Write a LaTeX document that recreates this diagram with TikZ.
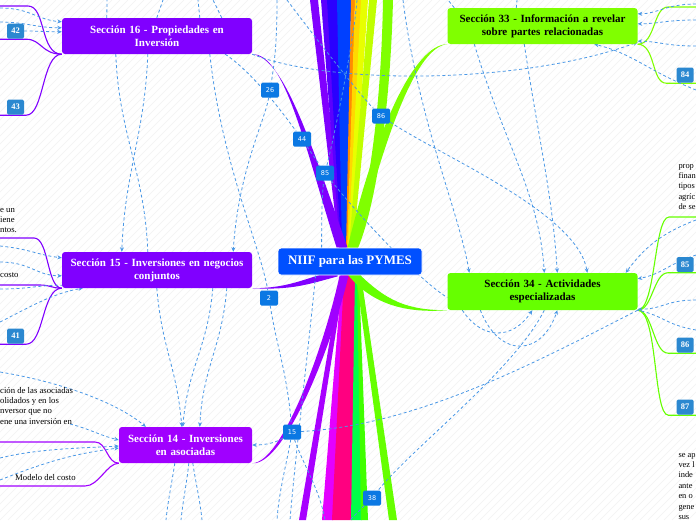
\documentclass[tikz,border=0pt]{standalone}
\usepackage{fontspec}
\setmainfont{Liberation Serif}
\newfontfamily\badgefont{DejaVu Sans}
\usetikzlibrary{arrows.meta,calc}

\definecolor{niifblue}{HTML}{0050FF}
\definecolor{secpurple}{HTML}{8000FF}
\definecolor{secviolet}{HTML}{A000FF}
\definecolor{secgreen}{HTML}{80FF00}
\definecolor{seclime}{HTML}{66FF00}
\definecolor{linkblue}{HTML}{4A98E6}
\definecolor{tagblue}{HTML}{2B88D0}
\definecolor{numblue}{HTML}{0B78E3}
\definecolor{fanviolet}{HTML}{8000FF}
\definecolor{fanindigo}{HTML}{5A00FF}
\definecolor{fandeep}{HTML}{2A00FF}
\definecolor{fanblue}{HTML}{0040FF}
\definecolor{fanorange}{HTML}{FF8C00}
\definecolor{fanyellow}{HTML}{FFD800}
\definecolor{fanlemon}{HTML}{E8FF00}
\definecolor{fanchart}{HTML}{C0FF00}
\definecolor{fanpurple}{HTML}{A800FF}
\definecolor{fanmagenta}{HTML}{E400FF}
\definecolor{fanpink}{HTML}{FF0080}
\definecolor{fanjade}{HTML}{00FF48}
\definecolor{fanlime}{HTML}{40FF00}

\pgfdeclarelayer{bg}
\pgfdeclarelayer{fan}
\pgfdeclarelayer{wire}
\pgfsetlayers{bg,fan,wire,main}

\tikzstyle{rootbox} = [rectangle, rounded corners=3pt, fill=niifblue, draw=white,
    line width=0.8pt, text=white, minimum width=144pt, minimum height=27pt,
    font=\fontsize{13}{15}\selectfont\bfseries]
\tikzstyle{secbox} = [rectangle, rounded corners=3pt, minimum width=190pt,
    minimum height=36pt, text width=182pt, align=center, inner sep=2pt,
    font=\fontsize{11}{13}\selectfont\bfseries]
\tikzstyle{purplebox} = [secbox, fill=secpurple, text=white]
\tikzstyle{greenbox} = [secbox, fill=secgreen, text=black]
\tikzstyle{tagbox} = [rectangle, rounded corners=1.5pt, fill=tagblue, text=white,
    minimum width=17pt, minimum height=15pt, inner sep=0pt,
    font=\fontsize{8.5}{8.5}\selectfont\bfseries]
\tikzstyle{numbox} = [rectangle, rounded corners=1.5pt, fill=numblue, text=white,
    minimum width=18pt, minimum height=15pt, inner sep=0pt,
    font=\badgefont\fontsize{6.5}{6.5}\selectfont]
\tikzstyle{leaf} = [inner sep=0pt, align=left, font=\fontsize{8.7}{10.4}\selectfont]
\tikzstyle{edgeleaf} = [leaf, font=\fontsize{8.4}{10.4}\selectfont]
\tikzstyle{link} = [draw=linkblue, line width=0.8pt, dash pattern=on 3pt off 2.5pt]
\tikzstyle{linkto} = [link, -{Stealth[length=4.5pt,width=4pt]}]
\tikzstyle{twig} = [line width=1.1pt]

\begin{document}
\begin{tikzpicture}[x=1pt, y=-1pt]
\useasboundingbox (0,0) rectangle (696,520);

\node[rootbox] (root) at (350,261.5) {NIIF para las PYMES};
\node[purplebox] (sec16) at (157,36) {Sección 16 - Propiedades en\\Inversión};
\node[purplebox] (sec15) at (157,270) {Sección 15 - Inversiones en negocios\\conjuntos};
\node[purplebox, fill=secviolet, minimum width=133pt, text width=125pt] (sec14) at (185.5,445) {Sección 14 - Inversiones\\en asociadas};
\node[greenbox] (sec33) at (542.5,26) {Sección 33 - Información a revelar\\sobre partes relacionadas};
\node[greenbox, fill=seclime, minimum height=37pt] (sec34) at (542.5,291.5) {Sección 34 - Actividades\\especializadas};

\node[tagbox] (t42) at (15.5,31) {42};
\node[tagbox] (t43) at (15.5,107) {43};
\node[tagbox] (t41) at (15.5,336) {41};
\node[tagbox] (t84) at (685,75) {84};
\node[tagbox] (t85r) at (685,264.5) {85};
\node[tagbox] (t86r) at (685,345) {86};
\node[tagbox] (t87) at (685,407) {87};

\node[numbox] (n26) at (270,90) {26};
\node[numbox] (n44) at (302,139) {44};
\node[numbox] (n85) at (325,173) {85};
\node[numbox] (n86) at (381,116) {86};
\node[numbox] (n2) at (269,298) {2};
\node[numbox] (n15) at (292,432) {15};
\node[numbox] (n38) at (372,498) {38};

\node[leaf, anchor=north west] (txt15) at (0,204.7) {\strut e un\\iene\\ntos.};
\node[leaf, anchor=north west] (txtcosto) at (0,269.7) {\strut costo};
\node[leaf, anchor=north west] (txt14) at (0,385.7) {\strut ción de las asociadas\\olidados y en los\\nversor que no\\ene una inversión en};
\node[leaf, anchor=north west] (txtmodelo) at (15,472.7) {\strut Modelo del costo};
\node[edgeleaf, anchor=north west] (txt34a) at (678.3,160.7) {\strut prop\\finan\\tipos\\agríc\\de se};
\node[edgeleaf, anchor=north west] (txt34b) at (678.3,449.7) {\strut se ap\\vez l\\inde\\ante\\en o\\gene\\sus};

\coordinate (left1) at (0,8);
\coordinate (left2) at (0,22);
\coordinate (left3) at (0,246);
\coordinate (left4) at (0,262);
\coordinate (left5) at (0,289);
\coordinate (left6) at (0,322);
\coordinate (left7) at (0,372);
\coordinate (left9) at (0,458);
\coordinate (left10) at (0,480);
\coordinate (inv14) at (70,424);
\coordinate (top1) at (107,0);
\coordinate (top2) at (163,0);
\coordinate (top3) at (198,0);
\coordinate (top4) at (213,0);
\coordinate (top5) at (277,0);
\coordinate (top6) at (287,0);
\coordinate (top7) at (357,0);
\coordinate (top8) at (403,0);
\coordinate (top9) at (448,0);
\coordinate (top10) at (517,0);
\coordinate (right1) at (696,4);
\coordinate (right2) at (696,20);
\coordinate (right3) at (696,46);
\coordinate (right4) at (696,90);
\coordinate (right5) at (696,220);
\coordinate (right6) at (696,255);
\coordinate (right7) at (696,300);
\coordinate (right8) at (696,330);
\coordinate (bot1) at (166,520);
\coordinate (bot2) at (181,520);
\coordinate (bot3) at (202,520);
\coordinate (bot4) at (277,520);
\coordinate (bot5) at (290,520);
\coordinate (bot6) at (325,520);
\coordinate (bot7) at (350,520);
\coordinate (leaf16) at (0,6);
\coordinate (leaf15) at (0,238);
\coordinate (leafcosto) at (0,285);
\coordinate (leaf14) at (0,442);
\coordinate (leafmodelo) at (0,486);
\coordinate (leaf33) at (696,7);
\coordinate (leaf34) at (696,217);

\begin{pgfonlayer}{bg}
\fill[white] (0,0) rectangle (696,520);
\clip (0,0) rectangle (696,520);
\foreach \s in {0,8,...,1216}
  \draw[black!5, line width=0.6pt] (\s-520,520) -- (\s,0);
\end{pgfonlayer}

\begin{pgfonlayer}{fan}
\foreach \tl/\tr/\bl/\br/\col in {310/318/339/344/fanviolet, 321/328/340/345/fanindigo,
    327/338/341/346/fandeep, 337/351/342/348/fanblue, 351/355/346/349/fanorange,
    355/362/347/350/fanyellow, 361/368/348/351/fanlemon, 369/377/349/353/fanchart}
  \fill[\col] (\tl,0) -- (\tr,0) -- (\br,248) -- (\bl,248) -- cycle;
\fill[secgreen] (383,0) .. controls (381,120) and (366,210) .. (350,248)
    -- (358,248) .. controls (374,210) and (390,120) .. (393,0) -- cycle;
\foreach \tl/\tr/\bl/\br/\col in {341/345/299/306/fanpurple, 342/347/322/333/fanmagenta,
    344/356/332/352/fanpink, 355/358/351/362/fanjade, 357/359/361/368/fanlime,
    356/361/389/397/seclime}
  \fill[\col] (\tl,275) -- (\tr,275) -- (\br,520) -- (\bl,520) -- cycle;

\fill[secpurple] (sec16.south east) .. controls +(33,-1) and +(-31,-98) .. ($(root.north west)+(59,0)$)
    -- ($(root.north west)+(70,0)$) .. controls +(-35,-98) and +(33,3) .. (sec16.south east) -- cycle;
\fill[secpurple] (sec15.south east) .. controls +(40,0) and +(-30,6) .. ($(root.south west)+(60,-5)$)
    -- ($(root.south west)+(60,1)$) .. controls +(-30,8) and +(40,2) .. (sec15.south east) -- cycle;
\fill[secviolet] (sec14.south east) .. controls +(30,0) and +(-15,70) .. ($(root.south west)+(62,0)$)
    -- ($(root.south west)+(71,0)$) .. controls +(-17,72) and +(32,3) .. (sec14.south east) -- cycle;
\fill[secgreen] (sec33.south west) .. controls +(-33,0) and +(28,-118) .. ($(root.north west)+(70,0)$)
    -- ($(root.north west)+(79,0)$) .. controls +(30,-118) and +(-30,2.5) .. (sec33.south west) -- cycle;
\fill[seclime] ($(root.south east)+(-66,-4)$) .. controls +(30,30) and +(-40,0) .. (sec34.south west)
    .. controls +(-40,3) and +(25,30) .. ($(root.south east)+(-74,0)$) -- cycle;

\draw[twig, secpurple] (sec16.south west) .. controls +(-22,0) and +(18,0) .. ($(leaf16)+(28,0)$) -- (leaf16);
\draw[twig, secpurple] (sec16.south west) .. controls +(-20,0) and +(15,0) .. ($(t42.south east)+(2,0.5)$) -- ($(t42.south west)+(-8,0.5)$);
\draw[twig, secpurple] (sec16.south west) .. controls +(-20,0) and +(18,0) .. ($(t43.south east)+(2,0.5)$) -- ($(t43.south west)+(-8,0.5)$);
\draw[twig, secpurple] (sec15.south west) .. controls +(-15,0) and +(15,0) .. ($(leaf15)+(34,0)$) -- (leaf15);
\draw[twig, secpurple] (sec15.south west) .. controls +(-10,0) and +(10,0) .. ($(leafcosto)+(40,0)$) -- (leafcosto);
\draw[twig, secpurple] (sec15.south west) .. controls +(-20,0) and +(18,0) .. ($(t41.south east)+(2,0.5)$) -- ($(t41.south west)+(-8,0.5)$);
\draw[twig, secviolet] (sec14.south west) .. controls +(-12,0) and +(12,0) .. ($(leaf14)+(95,0)$) -- (leaf14);
\draw[twig, secviolet] (sec14.south west) .. controls +(-12,0) and +(14,0) .. ($(leafmodelo)+(85,0)$) -- (leafmodelo);
\draw[twig, secgreen] (sec33.south east) .. controls +(18,0) and +(-15,0) .. ($(leaf33)+(-28,0)$) -- (leaf33);
\draw[twig, secgreen] (sec33.south east) .. controls +(18,0) and +(-15,0) .. ($(t84.south west)+(-10,0.5)$) -- ($(t84.south east)+(3,0.5)$);
\draw[twig, seclime] (sec34.south east) .. controls +(15,0) and +(-15,0) .. ($(t85r.south west)+(-8,0.5)$) -- ($(t85r.south east)+(3,0.5)$);
\draw[twig, seclime] (sec34.south east) .. controls +(18,0) and +(-15,0) .. ($(leaf34)+(-27,0)$) -- (leaf34);
\draw[twig, seclime] (sec34.south east) .. controls +(15,0) and +(-15,0) .. ($(t86r.south west)+(-8,0.5)$) -- ($(t86r.south east)+(3,0.5)$);
\draw[twig, seclime] (sec34.south east) .. controls +(20,0) and +(-15,0) .. ($(t87.south west)+(-8,0.5)$) -- ($(t87.south east)+(3,0.5)$);
\end{pgfonlayer}

\begin{pgfonlayer}{wire}
\draw[linkto] (left1) .. controls +(30,0) and +(-25,-2) .. ($(sec16.north west)+(0,4)$);
\draw[linkto] (left2) .. controls +(25,0) and +(-25,0) .. ($(sec16.north west)+(0,10)$);
\draw[linkto] (t42.east) .. controls +(15,0) and +(-15,0) .. ($(sec16.north west)+(0,14)$);
\draw[link] ($(sec16.north west)+(45,0)$) -- (top1);
\draw[link] ($(sec16.north west)+(95,0)$) -- (top2);
\draw[link] ($(sec16.north west)+(138,0)$) -- (top3);
\draw[link] ($(sec16.north west)+(160,0)$) -- (top4);
\draw[link] ($(sec16.south west)+(54,0)$) .. controls +(3,80) and +(-3,-80) .. ($(sec15.north west)+(86,0)$);
\draw[linkto] ($(sec16.south west)+(86,0)$) .. controls +(-3,80) and +(3,-80) .. ($(sec15.north west)+(60,0)$);
\draw[link] ($(sec16.south west)+(148,0)$) .. controls +(12,110) and +(-8,-50) .. (n2) .. controls +(8,50) and +(-5,-60) .. (n15);
\draw[linkto] (top5) .. controls +(0,40) and +(5,-30) .. (n26) .. controls +(-5,30) and +(5,-80) .. ($(sec15.north east)+(-19,0)$);
\draw[linkto] (sec16.south east) .. controls (330,85) and (520,85) .. ($(sec33.south east)+(0,-2)$);
\draw[linkto] (top6) .. controls +(30,40) and +(-20,-20) .. (n86) .. controls +(60,40) and +(-10,-60) .. ($(sec34.north west)+(140,0)$);
\draw[link] ($(sec16.south east)+(-27,0)$) .. controls +(30,20) and +(-15,-20) .. (n44) .. controls +(10,15) and +(-10,-15) .. (n85) .. controls +(40,50) and +(-25,-15) .. ($(sec34.west)+(0,6)$);
\draw[link] ($(root.north west)+(44,0)$) .. controls +(0,-30) and +(-3,20) .. (n85) .. controls +(10,-40) and +(-3,40) .. (top7);
\draw[linkto] (top8) .. controls +(15,120) and +(-10,-60) .. ($(sec34.north west)+(22,0)$);
\draw[linkto] ($(sec33.south west)+(27,0)$) .. controls +(30,100) and +(-5,-80) .. ($(sec34.north west)+(97,0)$);
\draw[linkto] ($(sec33.south west)+(77,0)$) .. controls +(15,100) and +(-5,-80) .. ($(sec34.north west)+(110,0)$);
\draw[link] ($(sec33.north west)+(7,0)$) -- (top9);
\draw[link] ($(sec33.north west)+(69,0)$) -- (top10);
\draw[linkto] (right1) .. controls +(-30,0) and +(20,0) .. ($(sec33.north east)+(0,6)$);
\draw[linkto] (right2) .. controls +(-30,0) and +(20,0) .. ($(sec33.north east)+(0,16)$);
\draw[linkto] (right3) .. controls +(-30,0) and +(20,0) .. ($(sec33.south east)+(0,-3)$);
\draw[linkto] (right4) .. controls +(-50,-20) and +(40,10) .. ($(sec33.south west)+(147,0)$);
\draw[linkto] (right5) .. controls +(-40,15) and +(15,-20) .. ($(sec34.north east)+(-12,0)$);
\draw[linkto] (right6) .. controls +(-30,10) and +(25,-5) .. ($(sec34.north east)+(0,6)$);
\draw[linkto] (right7) .. controls +(-30,0) and +(25,0) .. ($(sec34.south east)+(0,-1)$);
\draw[link] (right8) .. controls +(-30,-5) and +(25,5) .. (sec34.south east);
\draw[linkto] ($(sec34.south west)+(15,0)$) .. controls +(20,30) and +(-20,30) .. ($(sec34.south west)+(85,0)$);
\draw[linkto] ($(sec34.south west)+(33,0)$) .. controls +(20,50) and +(-15,45) .. ($(sec34.south west)+(110,0)$);
\draw[linkto] (sec34.south east) .. controls (540,360) and (420,425) .. (n15) .. controls +(-15,10) and +(15,0) .. (sec14.east);
\draw[link] ($(sec34.south west)+(97,0)$) .. controls +(-30,60) and +(40,-50) .. (n38) .. controls +(-10,10) and +(5,-5) .. (bot7);
\draw[linkto] ($(sec15.south west)+(95,0)$) .. controls +(5,60) and +(-5,-60) .. ($(sec14.north west)+(63,0)$);
\draw[linkto] ($(sec15.south west)+(151,0)$) .. controls +(-5,60) and +(5,-60) .. ($(sec14.north west)+(64,0)$);
\draw[linkto] ($(sec15.south west)+(165,0)$) .. controls +(-5,60) and +(3,-60) .. ($(sec14.north west)+(81,0)$);
\draw[link] ($(root.south west)+(38,0)$) .. controls +(-8,80) and +(5,-60) .. (bot5);
\draw[link] (n15) .. controls +(-5,30) and +(2,-30) .. (bot4);
\draw[link] (n15) .. controls +(10,30) and +(-5,-30) .. (bot6);
\draw[link] ($(sec14.south west)+(56,0)$) .. controls +(-3,20) and +(2,-20) .. (bot1);
\draw[link] ($(sec14.south west)+(70,0)$) .. controls +(-2,20) and +(2,-20) .. (bot2);
\draw[link] ($(sec14.south west)+(74,0)$) .. controls +(3,20) and +(-2,-20) .. (bot3);
\draw[linkto] (left3) .. controls +(30,3) and +(-25,-3) .. ($(sec15.north west)+(0,6)$);
\draw[linkto] (left4) .. controls +(30,0) and +(-25,0) .. ($(sec15.north west)+(0,24)$);
\draw[link] (left5) .. controls +(30,0) and +(-25,0) .. ($(sec15.south west)+(0,-3)$);
\draw[linkto] (left6) .. controls +(30,-15) and +(-30,5) .. ($(sec15.south west)+(21,0)$);
\draw[linkto] (left7) .. controls +(60,10) and +(-30,-25) .. ($(sec14.north west)+(27,0)$);
\draw[linkto] (inv14) .. controls +(20,5) and +(-20,-5) .. ($(sec14.west)+(0,-5)$);
\draw[linkto] (left9) .. controls +(40,-10) and +(-30,2) .. ($(sec14.west)+(0,1)$);
\draw[linkto] (left10) .. controls +(50,-20) and +(-40,5) .. ($(sec14.west)+(0,3)$);
\end{pgfonlayer}
\end{tikzpicture}
\end{document}
